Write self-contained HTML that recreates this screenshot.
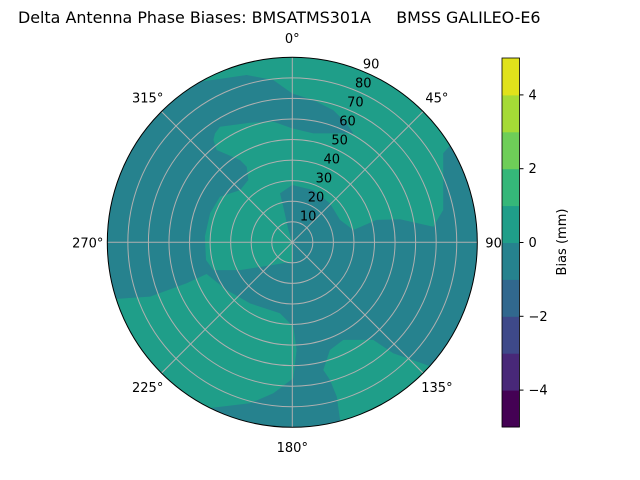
<!DOCTYPE html>
<html><head><meta charset="utf-8"><style>
body{margin:0;background:#fff;}
svg{display:block;font-family:"DejaVu Sans","Liberation Sans",sans-serif;}
</style></head><body>
<svg id="chart" width="640" height="480" viewBox="0 0 640 480">
<text x="18" y="23" font-size="15.9" xml:space="preserve">Delta Antenna Phase Biases: BMSATMS301A     BMSS GALILEO-E6</text>
<g id="plot"></g>
<g id="cbar"></g>
</svg>
<script>
// contour level bands (mm)
const levels = [-5,-4,-3,-2,-1,0,1,2,3,4,5];
const bandColors = ["#440154","#482878","#3e4989","#31688e","#26828e","#1f9e89","#35b779","#6ece58","#a5db36","#e0e21b"];
const backgroundBand = 4; // -1..0
// regions of band 0..1: arc along horizon (azimuth deg) then boundary points [east, north] in zenith degrees
const regionBands = [5,5,5];
const regionArcs = [[320.3,418.5],[206.4,252.2],[132.0,165.0]];
const regionPoints = [
 [[73.4,43.3],[73.4,15.7],[68.6,7.6],[52.4,11.2],[41.0,10.9],[29.7,6.0],[23.2,10.9],[18.3,19.0],[10.2,25.4],[0,27.9],[-6.0,23.8],[-4.4,17.3],[-1.9,6.0],[0,0],[0,-9.4],[-9.2,-11.0],[-25.4,-13.5],[-38.4,-13.5],[-42.0,-8.6],[-42.5,2.8],[-40.0,14.1],[-35.2,22.2],[-25.4,25.4],[-21.4,30.3],[-22.2,36.8],[-25.4,40.0],[-36.8,44.9],[-38.4,49.8],[-37.6,53.0],[-35.2,56.2],[-20.6,58.2],[-9.2,58.7],[0,55.4],[10.2,53.0],[23.2,53.0],[29.7,53.0],[26.4,57.9],[19.9,64.3],[10.2,69.2],[0,72.4],[-9.2,78.9],[-22.2,81.4],[-44.9,78.1]],
 [[-69.2,-26.4],[-51.4,-19.9],[-41.7,-15.4],[-31.9,-23.2],[-20.6,-29.7],[-6.0,-34.5],[0.5,-41.0],[2.1,-52.4],[0.5,-66.1],[-9.2,-73.4],[-20.6,-78.3]],
 [[21.6,-75.0],[18.3,-66.9],[15.1,-62.1],[18.3,-52.4],[24.8,-47.5],[39.4,-47.5],[49.1,-54.0]]
];
const ringTicks = [10,20,30,40,50,60,70,80,90];
const angleTicks = [0,45,90,135,180,225,270,315];
const cbarTicks = [-4,-2,0,2,4];

const NS="http://www.w3.org/2000/svg";
const cx=292.3, cy=242.3, R=185, zmax=90;
const rs = z => z/zmax*R;
const px = (e,n) => [cx + rs(e), cy - rs(n)];
const polar = (az,z) => [cx + rs(z)*Math.sin(az*Math.PI/180), cy - rs(z)*Math.cos(az*Math.PI/180)];
function mk(tag, attrs, parent){const el=document.createElementNS(NS,tag);for(const k in attrs)el.setAttribute(k,attrs[k]);parent.appendChild(el);return el;}
const plot=document.getElementById('plot');

const bg=mk('circle',{cx:cx,cy:cy,r:R,fill:bandColors[backgroundBand]},plot);



regionPoints.forEach((pts,i)=>{
  const [a0,a1]=regionArcs[i];
  const coords=[];
  for(let a=a0;a<=a1+0.01;a+=(a1-a0)/40) coords.push(polar(a,zmax));
  pts.forEach(p=>coords.push(px(p[0],p[1])));
  const p=mk('path',{d:'M'+coords.map(c=>c[0].toFixed(1)+','+c[1].toFixed(1)).join('L')+'Z',fill:bandColors[regionBands[i]]},plot);
  
  
});

ringTicks.forEach(z=>{
  if(z<zmax){
    const c=mk('circle',{cx:cx,cy:cy,r:rs(z),fill:'none',stroke:'#b0b0b0','stroke-width':1},plot);
    
    
  }
  const [x,y]=polar(22.5,z);
  const t=mk('text',{x:x+8,y:y-3,'font-size':13,'text-anchor':'middle'},plot);
  t.textContent=z;
  
  
});
angleTicks.forEach(a=>{
  const [x,y]=polar(a,zmax);
  const l=mk('line',{x1:cx,y1:cy,x2:x,y2:y,stroke:'#b0b0b0','stroke-width':1},plot);
  
  
  const [tx,ty]=polar(a,zmax+9.5);
  const t=mk('text',{x:tx,y:ty+5,'font-size':13,'text-anchor':'middle'},plot);
  t.textContent=a+'°';
  
  
});
const outline=mk('circle',{cx:cx,cy:cy,r:R,fill:'none',stroke:'#000','stroke-width':1},plot);



// colorbar
const cb=document.getElementById('cbar');
const bx=502, bw=17.5, by0=58, by1=427;
const cy_ = v => by1 - (v-levels[0])/(levels[levels.length-1]-levels[0])*(by1-by0);
for(let i=0;i<bandColors.length;i++){
  const r=mk('rect',{x:bx,y:cy_(levels[i+1]),width:bw,height:cy_(levels[i])-cy_(levels[i+1])+0.5,fill:bandColors[i]},cb);
  
  
}
const fr=mk('rect',{x:bx,y:by0,width:bw,height:by1-by0,fill:'none',stroke:'#000','stroke-width':0.8},cb);


cbarTicks.forEach(v=>{
  const y=cy_(v);
  const l=mk('line',{x1:bx+bw,y1:y,x2:bx+bw+4,y2:y,stroke:'#000'},cb);
  
  
  const t=mk('text',{x:bx+bw+9,y:y+4.5,'font-size':13},cb);
  t.textContent=(v<0?'\u2212'+(-v):v);
  
  
});
const lab=mk('text',{x:0,y:0,'font-size':13,'text-anchor':'middle',transform:'translate(566,242) rotate(-90)'},cb);
lab.textContent='Bias (mm)';


</script>
</body></html>
